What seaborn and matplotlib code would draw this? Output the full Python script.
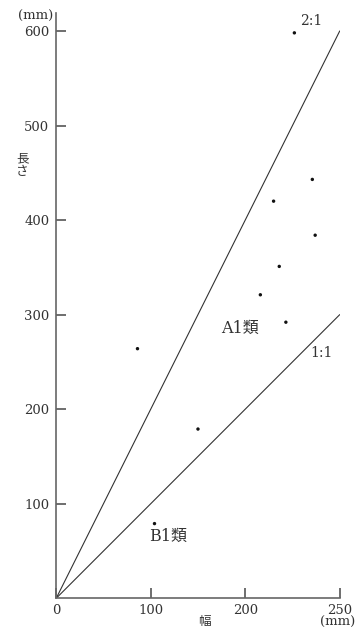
import matplotlib
matplotlib.use('Agg')
import matplotlib.pyplot as plt
import numpy as np
import pandas as pd
import seaborn as sns

# measured specimens (width, length) in mm
width = [252, 271, 230, 274, 236, 216, 243, 86, 150, 104]
length = [598, 443, 420, 384, 351, 321, 292, 264, 179, 79]

# reference ratio lines (length:width)
ratio_names = ['2:1', '1:1']
ratio_x = [0, 300]
ratio_2 = [0, 600]
ratio_1 = [0, 300]

xticks = [0, 100, 200, 300]
xtick_labels = ['0', '100', '200', '250']
yticks = [100, 200, 300, 400, 500, 600]
ytick_labels = ['100', '200', '300', '400', '500', '600']

sns.set_style('ticks', {'xtick.direction': 'in', 'ytick.direction': 'in'})
plt.rcParams['font.family'] = ['DejaVu Serif', 'Noto Sans CJK JP']
plt.rcParams.update({
    'xtick.major.size': 7, 'ytick.major.size': 7,
    'xtick.major.width': 1.2, 'ytick.major.width': 1.2,
    'xtick.color': '#555555', 'ytick.color': '#555555',
    'xtick.labelcolor': '#333333', 'ytick.labelcolor': '#333333',
    'xtick.labelsize': 9.5, 'ytick.labelsize': 9.5,
    'xtick.major.pad': 4, 'ytick.major.pad': 5,
})

fig = plt.figure(figsize=(3.58, 6.28), dpi=100)
ax = fig.add_axes([0.157, 0.0473, 0.792, 0.932])

lines_df = pd.DataFrame({
    'x': ratio_x + ratio_x,
    'y': ratio_2 + ratio_1,
    'ratio': [ratio_names[0]] * 2 + [ratio_names[1]] * 2,
})
sns.lineplot(data=lines_df, x='x', y='y', units='ratio', estimator=None,
             color='#333333', linewidth=0.8, ax=ax, legend=False)

pts = pd.DataFrame({'width': width, 'length': length})
sns.scatterplot(data=pts, x='width', y='length', color='#111111', s=6,
                edgecolor='none', ax=ax, legend=False)

ax.set(xlim=(0, 300), ylim=(0, 619), xticks=xticks, yticks=yticks,
       xlabel='', ylabel='')
ax.set_xticklabels(xtick_labels)
ax.set_yticklabels(ytick_labels)
ax.tick_params(axis='both', which='major', direction='in', length=7,
               width=1.2, bottom=True, left=True)
sns.despine(ax=ax)
for side in ['left', 'bottom']:
    ax.spines[side].set_color('#666666')
    ax.spines[side].set_linewidth(1.2)

ax.text(-3.5, 615, '(mm)', fontsize=9.5, color='#333333', ha='right', va='center')
ax.text(298, -26, '(mm)', fontsize=9.5, color='#333333', ha='center', va='center')

ax.text(-36, 458, '長\nさ', fontsize=9, color='#333333', ha='center',
        va='center', linespacing=1.05, family=['Noto Sans CJK JP'])
ax.text(157, -25, '幅', fontsize=9, color='#333333', ha='center', va='center',
        family=['Noto Sans CJK JP'])

ax.text(269.5, 611, '2:1', fontsize=10, color='#333333', ha='center', va='center')
ax.text(281, 259, '1:1', fontsize=10, color='#333333', ha='center', va='center')
ax.text(194.5, 285, 'A1類', fontsize=11.5, color='#333333', ha='center', va='center')
ax.text(118, 65, 'B1類', fontsize=11.5, color='#333333', ha='center', va='center')

fig.savefig('out.png', dpi=100)
